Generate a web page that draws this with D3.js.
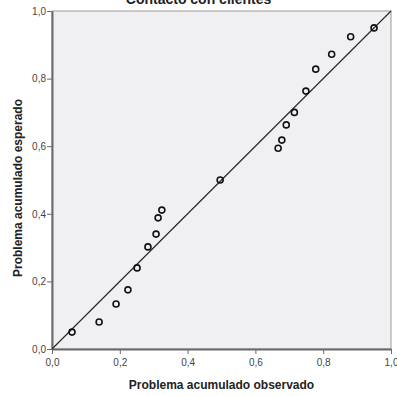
<!DOCTYPE html>
<html>
<head>
<meta charset="utf-8">
<script src="https://cdn.jsdelivr.net/npm/d3@7"></script>
<style>
  body { margin: 0; background: #fff; }
  text { font-family: "Liberation Sans", Arial, sans-serif; }
</style>
</head>
<body>
<script>
// observed vs expected cumulative probability
var observed = [0.059, 0.139, 0.189, 0.224, 0.251, 0.283, 0.307, 0.313, 0.324, 0.496,
                0.667, 0.678, 0.691, 0.715, 0.749, 0.778, 0.825, 0.881, 0.950];
var expected = [0.050, 0.080, 0.133, 0.175, 0.240, 0.302, 0.340, 0.388, 0.411, 0.500,
                0.594, 0.618, 0.663, 0.700, 0.763, 0.828, 0.872, 0.924, 0.950];
var ticks = [0, 0.2, 0.4, 0.6, 0.8, 1.0];
var title = "Contacto con clientes";
var xTitle = "Problema acumulado observado";
var yTitle = "Problema acumulado esperado";

var w = 397, h = 396;
var padL = 52, padR = 391, padT = 11, padB = 349;

var svg = d3.select('body').append('svg').attr('width', w).attr('height', h);

var x = d3.scaleLinear().domain([0, 1]).range([padL, padR]);
var y = d3.scaleLinear().domain([0, 1]).range([padB, padT]);
var fmt = function(d) { return d3.format('.1f')(d).replace('.', ','); };

// plot background
svg.append('rect')
    .attr('x', padL).attr('y', padT)
    .attr('width', padR - padL).attr('height', padB - padT)
    .attr('fill', '#f0f0f2')
    .attr('stroke', '#9a9a9a').attr('stroke-width', 1);

// axes
var xAxis = svg.append('g')
    .attr('transform', 'translate(0,' + padB + ')')
    .call(d3.axisBottom(x).tickValues(ticks).tickFormat(fmt).tickSize(5).tickSizeOuter(0));
var yAxis = svg.append('g')
    .attr('transform', 'translate(' + padL + ',0)')
    .call(d3.axisLeft(y).tickValues(ticks).tickFormat(fmt).tickSize(5).tickSizeOuter(0));

[xAxis, yAxis].forEach(function(a) {
  a.select('.domain').attr('stroke', '#6a6a6a').attr('stroke-width', 2);
  a.selectAll('.tick line').attr('stroke', '#6a6a6a');
  a.selectAll('.tick text').attr('fill', '#444').style('font-size', '10px')
      .style('font-family', '"Liberation Sans", Arial, sans-serif');
});
xAxis.selectAll('.tick text').attr('dy', '0.9em');
yAxis.selectAll('.tick text').attr('x', -6);

// reference diagonal
svg.append('line')
    .attr('x1', x(0)).attr('y1', y(0))
    .attr('x2', x(1)).attr('y2', y(1))
    .attr('stroke', '#2a2a2a').attr('stroke-width', 1.2);

// points
svg.append('g').selectAll('circle')
    .data(observed)
    .enter().append('circle')
      .attr('cx', function(d) { return x(d); })
      .attr('cy', function(d, i) { return y(expected[i]); })
      .attr('r', 3)
      .attr('fill', 'none')
      .attr('stroke', '#111')
      .attr('stroke-width', 1.6);

// titles
svg.append('text')
    .attr('x', w / 2).attr('y', 4)
    .attr('text-anchor', 'middle')
    .style('font-size', '14px').style('font-weight', 'bold')
    .attr('fill', '#222')
    .text(title);

svg.append('text')
    .attr('x', (padL + padR) / 2).attr('y', 389)
    .attr('text-anchor', 'middle')
    .style('font-size', '12px').style('font-weight', 'bold')
    .attr('fill', '#222')
    .text(xTitle);

svg.append('text')
    .attr('transform', 'translate(22,' + 188 + ') rotate(-90)')
    .attr('text-anchor', 'middle')
    .style('font-size', '12px').style('font-weight', 'bold')
    .attr('fill', '#222')
    .text(yTitle);
</script>
</body>
</html>
